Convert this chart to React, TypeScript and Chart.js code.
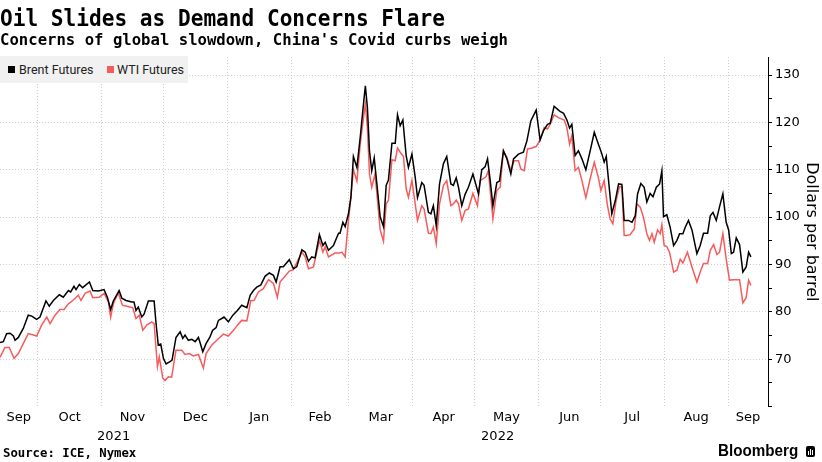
import React, { useEffect, useRef } from 'react';
import { Chart, registerables } from 'chart.js';

Chart.register(...registerables);

// x values: days since 1 Sep 2021
const brentDays = [
  11.7, 13.3, 14.9, 16.6, 18.2, 19.0, 20.6, 23.0, 25.4, 27.1,
  29.5, 31.1, 34.0, 35.6, 37.6, 40.5, 42.4, 44.9, 46.0, 47.6,
  48.6, 50.2, 51.8, 55.1, 56.7, 59.4, 62.2, 63.8, 65.4, 66.7,
  69.5, 70.8, 72.9, 75.6, 76.7, 77.7, 78.8, 80.5, 81.6, 83.7,
  86.5, 87.4, 88.5, 89.7, 91.0, 92.3, 94.2, 95.2, 97.1, 99.1,
  100.4, 101.5, 103.1, 104.8, 106.4, 108.0, 108.8, 110.1, 111.7, 113.6,
  114.9, 116.6, 117.7, 119.3, 120.4, 122.5, 124.7, 126.9, 129.0, 131.5,
  133.1, 134.7, 136.3, 138.3, 140.3, 142.4, 144.4, 145.7, 147.6, 149.2,
  152.1, 154.1, 155.7, 158.2, 159.8, 161.4, 163.0, 164.6, 166.7, 168.4,
  169.5, 171.1, 173.5, 176.0, 176.7, 178.1, 179.2, 180.8, 182.0, 183.2,
  184.9, 186.5, 188.1, 189.0, 190.0, 191.0, 192.1, 193.3, 194.6, 196.2,
  197.8, 199.1, 200.2, 201.9, 203.5, 204.6, 205.9, 207.2, 208.8, 209.9,
  211.6, 213.2, 214.3, 216.4, 217.5, 219.6, 220.8, 222.0, 223.4, 225.0,
  226.9, 228.5, 230.5, 231.7, 233.1, 234.2, 235.8, 237.4, 239.0, 241.2,
  243.9, 245.5, 247.1, 248.3, 249.6, 250.9, 252.8, 254.1, 256.0, 257.7,
  259.6, 260.9, 263.3, 265.7, 267.4, 269.3, 271.9, 273.8, 275.4, 277.4,
  278.7, 280.6, 282.2, 283.5, 285.2, 286.8, 288.1, 289.2, 290.8, 292.4,
  294.1, 296.0, 298.1, 300.1, 302.1, 303.8, 304.9, 305.9, 307.5, 308.6,
  310.3, 311.9, 313.5, 314.6, 316.7, 318.4, 320.0, 321.1, 322.7, 324.3,
  325.6, 327.2, 328.6, 330.2, 331.8, 332.9, 333.7, 335.3, 336.9, 338.6,
  340.2, 341.5, 343.1, 344.2, 345.8, 347.5, 349.9, 351.5, 353.1, 355.1,
  356.4, 357.7, 359.3, 360.9, 362.5, 364.1, 365.3, 366.6, 367.7, 369.0,
  370.6, 372.2, 373.8, 375.0, 376.1,
];
const brentPrices = [
  73.5, 73.7, 75.4, 75.5, 74.9, 74.0, 74.6, 76.5, 79.3, 79.1,
  78.4, 78.9, 82.3, 81.2, 82.4, 83.6, 83.1, 84.5, 84.2, 85.4,
  84.7, 85.8, 85.1, 86.3, 84.5, 84.4, 84.7, 83.1, 80.5, 82.3,
  84.5, 82.9, 82.4, 82.1, 82.1, 80.3, 81.0, 78.9, 79.5, 82.3,
  82.3, 77.7, 73.0, 73.2, 70.2, 69.0, 69.5, 69.8, 74.6, 75.8,
  74.4, 75.1, 74.0, 74.2, 73.7, 74.6, 73.5, 71.6, 73.3, 74.7,
  76.1, 76.7, 78.2, 78.6, 78.9, 77.9, 79.3, 80.3, 81.4, 80.9,
  83.5, 84.5, 85.2, 85.7, 87.5, 88.2, 87.7, 86.3, 89.5, 89.5,
  91.0, 89.1, 89.5, 93.1, 92.6, 90.7, 91.6, 91.4, 96.3, 94.0,
  94.7, 93.0, 94.0, 96.6, 96.6, 98.9, 98.0, 100.7, 104.2, 112.8,
  110.5, 116.8, 123.9, 127.7, 123.1, 114.0, 109.8, 112.5, 107.0, 100.0,
  98.0, 106.7, 107.8, 115.6, 115.6, 121.6, 119.3, 120.5, 113.0, 110.5,
  113.3, 108.4, 104.1, 107.3, 106.7, 101.0, 100.7, 102.4, 98.2, 107.0,
  111.3, 112.8, 107.0, 106.7, 108.3, 106.3, 102.4, 104.8, 106.3, 109.1,
  104.9, 110.0, 110.6, 112.3, 107.7, 102.4, 107.3, 107.6, 114.0, 112.3,
  109.1, 112.3, 113.3, 113.7, 116.1, 120.3, 122.6, 116.3, 118.2, 119.6,
  119.8, 123.4, 122.8, 122.3, 121.9, 120.5, 118.8, 119.6, 113.0, 114.0,
  112.3, 110.0, 114.0, 117.9, 115.4, 113.3, 111.6, 112.8, 105.6, 100.7,
  103.5, 107.0, 106.9, 99.3, 99.3, 98.9, 100.3, 104.9, 107.1, 106.3,
  103.2, 105.0, 104.3, 106.3, 107.0, 109.8, 100.1, 100.5, 97.9, 94.0,
  95.1, 96.5, 96.5, 97.8, 99.3, 97.3, 92.3, 94.0, 96.6, 96.6,
  100.3, 101.0, 99.3, 102.2, 104.9, 98.9, 97.3, 92.3, 92.6, 95.6,
  94.2, 88.4, 89.5, 92.6, 91.6,
];

const wtiDays = [
  11.7, 14.1, 16.2, 18.5, 20.6, 25.4, 27.9, 29.5, 31.9, 34.4,
  36.0, 38.4, 40.8, 42.8, 44.9, 47.0, 49.7, 51.0, 53.0, 55.4,
  56.7, 59.9, 62.2, 64.3, 65.4, 66.7, 69.1, 71.1, 73.2, 76.1,
  77.7, 79.3, 81.0, 82.9, 85.3, 86.5, 88.1, 89.0, 90.7, 91.8,
  93.4, 95.0, 97.1, 99.9, 101.5, 103.6, 105.5, 108.0, 110.4, 111.7,
  114.5, 116.9, 120.1, 122.5, 125.0, 126.9, 129.0, 131.5, 133.4, 135.0,
  137.1, 139.5, 142.0, 144.4, 146.3, 147.6, 149.6, 152.1, 154.1, 158.2,
  159.8, 161.4, 163.8, 166.7, 168.4, 169.5, 171.1, 174.3, 176.4, 177.6,
  179.2, 180.8, 182.0, 183.2, 184.9, 186.5, 188.1, 189.0, 190.0, 191.0,
  192.1, 193.7, 194.9, 196.2, 197.8, 199.1, 200.2, 201.9, 203.5, 204.6,
  205.9, 207.5, 208.8, 209.9, 211.6, 213.2, 214.3, 216.4, 217.5, 219.6,
  220.8, 222.0, 223.4, 225.0, 226.9, 228.5, 230.5, 231.7, 233.1, 234.2,
  235.8, 237.4, 239.0, 241.2, 243.4, 244.7, 247.6, 248.7, 250.9, 252.8,
  254.4, 256.0, 257.7, 259.6, 261.2, 263.3, 264.5, 266.1, 267.7, 269.8,
  271.9, 273.8, 275.8, 277.4, 278.7, 280.6, 282.7, 285.5, 286.8, 288.1,
  289.2, 290.8, 292.4, 294.1, 296.0, 298.1, 300.1, 302.1, 303.3, 304.9,
  306.5, 307.8, 309.1, 310.7, 312.3, 313.5, 314.6, 315.9, 317.5, 319.5,
  320.8, 322.4, 324.0, 325.6, 326.9, 328.1, 329.2, 330.8, 332.1, 332.9,
  334.0, 335.3, 336.6, 338.6, 340.2, 341.8, 343.1, 345.3, 348.0, 349.9,
  351.8, 353.1, 355.1, 356.4, 358.0, 359.6, 360.9, 362.5, 364.1, 365.7,
  367.7, 370.6, 372.2, 373.8, 375.0, 376.1,
];
const wtiPrices = [
  70.4, 72.5, 72.5, 70.2, 71.2, 75.4, 75.1, 74.9, 77.2, 78.9,
  77.5, 79.3, 80.5, 80.5, 81.7, 82.4, 83.5, 82.4, 83.9, 84.4,
  83.0, 83.1, 83.9, 82.1, 78.9, 81.7, 84.0, 81.4, 81.2, 80.9,
  78.6, 79.3, 76.1, 77.2, 77.9, 77.5, 68.4, 70.5, 66.0, 65.5,
  66.3, 66.2, 71.9, 71.9, 71.0, 71.2, 70.7, 71.0, 68.1, 71.2,
  73.0, 74.0, 75.3, 74.9, 76.1, 77.2, 78.2, 78.1, 82.4, 82.4,
  84.2, 84.9, 86.8, 86.0, 83.1, 86.3, 87.3, 88.6, 88.9, 92.6,
  91.6, 89.1, 89.5, 95.1, 92.6, 93.7, 91.6, 92.4, 92.4, 92.6,
  91.6, 99.3, 104.2, 110.0, 107.6, 115.4, 121.0, 123.9, 118.9, 109.1,
  106.3, 109.1, 103.5, 97.3, 94.9, 102.8, 103.5, 112.1, 111.9, 114.6,
  113.7, 112.8, 106.0, 104.2, 107.7, 102.8, 99.3, 102.4, 101.7, 96.6,
  96.5, 97.9, 94.4, 102.8, 106.7, 107.7, 102.4, 102.8, 103.6, 102.8,
  99.3, 101.4, 101.7, 105.0, 102.4, 107.7, 108.5, 109.8, 99.6, 105.6,
  106.3, 114.0, 112.6, 109.8, 111.9, 111.9, 110.1, 109.8, 114.4, 114.6,
  114.9, 116.3, 118.9, 118.6, 119.6, 121.6, 121.0, 120.5, 118.9, 115.4,
  117.2, 109.8, 110.5, 107.7, 104.1, 108.1, 111.6, 108.3, 105.6, 107.7,
  102.4, 99.6, 98.6, 103.5, 106.4, 106.4, 96.1, 96.1, 96.3, 97.5,
  102.8, 102.1, 99.9, 96.5, 95.1, 96.5, 94.7, 97.3, 96.5, 98.4,
  94.0, 93.8, 92.6, 88.4, 88.8, 91.1, 90.3, 92.6, 88.8, 86.3,
  88.8, 90.2, 90.2, 93.0, 94.2, 92.1, 92.6, 96.5, 91.2, 86.7,
  86.8, 86.8, 81.9, 83.0, 86.7, 85.6,
];

const monthLabels = ['Sep', 'Oct', 'Nov', 'Dec', 'Jan', 'Feb', 'Mar', 'Apr', 'May', 'Jun', 'Jul', 'Aug', 'Sep'];
const monthStartDays = [0, 30, 61, 91, 122, 153, 181, 212, 242, 273, 303, 334, 365, 395];
const yearLabels = ['2021', '2022'];
const yearStartDays = [0, 122, 487];
const yTickValues = [60, 65, 70, 75, 80, 85, 90, 95, 100, 105, 110, 115, 120, 125, 130];

const X_MIN = 11.7;
const X_MAX = 384.4;
const Y_MIN = 60;
const Y_MAX = 133.8;

const BLACK = '#000000';
const RED = '#f75b5b';
const GRID = '#cfcfcf';
const AXIS_FONT = '"DejaVu Sans", sans-serif';

const periodLabels = {
  id: 'periodLabels',
  afterDraw(chart: any) {
    const x = chart.scales.x;
    const ctx = chart.ctx;
    const bottom = chart.chartArea.bottom;
    ctx.save();
    ctx.font = `13px ${AXIS_FONT}`;
    ctx.fillStyle = '#000';
    ctx.textAlign = 'center';
    ctx.textBaseline = 'middle';
    for (let i = 0; i < monthLabels.length; i++) {
      const a = Math.max(monthStartDays[i], x.min);
      const b = Math.min(monthStartDays[i + 1], x.max);
      if (b <= a) continue;
      ctx.fillText(monthLabels[i], x.getPixelForValue((a + b) / 2), bottom + 11);
    }
    for (let i = 0; i < yearLabels.length; i++) {
      const a = Math.max(yearStartDays[i], x.min);
      const b = Math.min(yearStartDays[i + 1], x.max);
      if (b <= a) continue;
      ctx.fillText(yearLabels[i], x.getPixelForValue((a + b) / 2), bottom + 30);
    }
    ctx.restore();
  },
};

function OilChart() {
  const ref = useRef<HTMLCanvasElement | null>(null);
  useEffect(() => {
    if (!ref.current) return;
    const chart = new Chart(ref.current, {
      type: 'line',
      data: {
        datasets: [
          {
            label: 'Brent Futures',
            data: brentDays.map((d, i) => ({ x: d, y: brentPrices[i] })),
            borderColor: BLACK,
            backgroundColor: BLACK,
            borderWidth: 1.5,
            pointRadius: 0,
            tension: 0,
          },
          {
            label: 'WTI Futures',
            data: wtiDays.map((d, i) => ({ x: d, y: wtiPrices[i] })),
            borderColor: RED,
            backgroundColor: RED,
            borderWidth: 1.5,
            pointRadius: 0,
            tension: 0,
          },
        ],
      },
      options: {
        animation: false,
        responsive: false,
        maintainAspectRatio: false,
        devicePixelRatio: 1,
        layout: { padding: { top: 57, left: 0, right: 0, bottom: 0 } },
        plugins: {
          legend: { display: false },
          tooltip: { enabled: false },
          title: { display: false },
        },
        scales: {
          x: {
            type: 'linear',
            min: X_MIN,
            max: X_MAX,
            afterBuildTicks: (s: any) => {
              s.ticks = monthStartDays.filter((d) => d > X_MIN && d < X_MAX).map((v) => ({ value: v }));
            },
            ticks: { display: false },
            grid: { color: GRID, lineWidth: 1, drawTicks: false },
            border: { display: false, dash: [1, 2] },
            afterFit: (s: any) => {
              s.height = 55.4;
            },
          },
          y: {
            position: 'right',
            min: Y_MIN,
            max: Y_MAX,
            afterBuildTicks: (s: any) => {
              s.ticks = yTickValues.map((v) => ({ value: v }));
            },
            ticks: {
              autoSkip: false,
              padding: 3,
              color: '#000',
              font: { family: AXIS_FONT, size: 13 },
              callback: (v: any) => (v % 10 === 0 && v > Y_MIN ? String(v) : ''),
            },
            grid: {
              color: (c: any) => (c.tick && c.tick.value % 10 === 0 && c.tick.value > Y_MIN ? GRID : 'rgba(0,0,0,0)'),
              lineWidth: 1,
              drawTicks: true,
              tickLength: 4,
              tickColor: '#000',
              tickBorderDash: [],
            },
            border: { display: true, color: '#000', width: 1, dash: [1, 2] },
            title: {
              display: true,
              text: 'Dollars per barrel',
              color: '#000',
              font: { family: AXIS_FONT, size: 16 },
              padding: { top: 1, bottom: 0 },
            },
            afterFit: (s: any) => {
              s.width = 54;
            },
          },
        },
      },
      plugins: [periodLabels],
    } as any);
    return () => chart.destroy();
  }, []);
  return <canvas ref={ref} width={822} height={462} style={{ position: 'absolute', left: 0, top: 0, width: 822, height: 462 }} />;
}

const mono = '"DejaVu Sans Mono", monospace';

export default function App() {
  return (
    <div style={{ position: 'absolute', left: 0, top: 0, width: 822, height: 462, background: '#fff', overflow: 'hidden' }}>
      <OilChart />
      <div
        style={{
          position: 'absolute', left: 0, top: 4, fontFamily: mono, fontWeight: 'bold', fontSize: 23,
          lineHeight: '28px', whiteSpace: 'nowrap', transform: 'scaleX(0.918)', transformOrigin: 'left top', color: '#000',
        }}
      >
        Oil Slides as Demand Concerns Flare
      </div>
      <div
        style={{
          position: 'absolute', left: 0, top: 30, fontFamily: mono, fontWeight: 'bold', fontSize: 16.5,
          lineHeight: '20px', whiteSpace: 'nowrap', transform: 'scaleX(0.947)', transformOrigin: 'left top', color: '#000',
        }}
      >
        Concerns of global slowdown, China's Covid curbs weigh
      </div>
      <div style={{ position: 'absolute', left: 0, top: 56, width: 188, height: 27, background: '#f1f1f1' }}>
        <div style={{ position: 'absolute', left: 8, top: 66 - 56, width: 7, height: 7, background: BLACK }} />
        <div style={{ position: 'absolute', left: 19, top: 63 - 56, fontFamily: 'Roboto, sans-serif', fontSize: 12.5, lineHeight: '14px', color: '#222', whiteSpace: 'nowrap' }}>
          Brent Futures
        </div>
        <div style={{ position: 'absolute', left: 107, top: 66 - 56, width: 7, height: 7, background: RED }} />
        <div style={{ position: 'absolute', left: 117, top: 63 - 56, fontFamily: 'Roboto, sans-serif', fontSize: 12.5, lineHeight: '14px', color: '#222', whiteSpace: 'nowrap' }}>
          WTI Futures
        </div>
      </div>
      <div
        style={{
          position: 'absolute', left: 3, top: 446, fontFamily: mono, fontWeight: 'bold', fontSize: 12.3,
          lineHeight: '15px', whiteSpace: 'nowrap', color: '#000',
        }}
      >
        Source: ICE, Nymex
      </div>
      <div
        style={{
          position: 'absolute', left: 718, top: 442, fontFamily: '"Liberation Sans", Arial, sans-serif', fontWeight: 'bold',
          fontSize: 16, lineHeight: '18px', whiteSpace: 'nowrap', transform: 'scaleX(0.95)', transformOrigin: 'left top', color: '#000',
        }}
      >
        Bloomberg
      </div>
      <div style={{ position: 'absolute', left: 806, top: 446, width: 9, height: 11, background: '#000', borderRadius: 2 }}>
        <div style={{ position: 'absolute', left: 2, top: 5, width: 1, height: 4, background: '#fff' }} />
        <div style={{ position: 'absolute', left: 4, top: 3, width: 1, height: 6, background: '#fff' }} />
        <div style={{ position: 'absolute', left: 6, top: 4, width: 1, height: 5, background: '#fff' }} />
      </div>
    </div>
  );
}
